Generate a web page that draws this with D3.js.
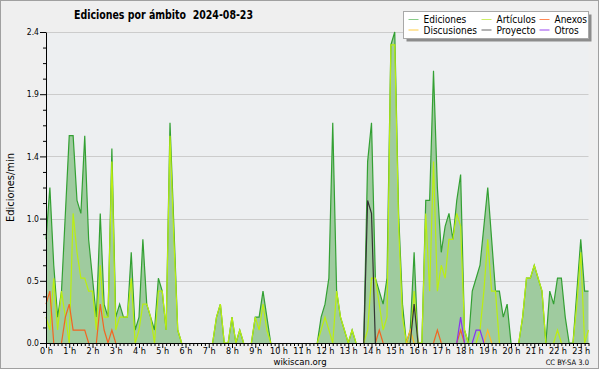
<!DOCTYPE html>
<html>
<head>
<meta charset="utf-8">
<script src="https://cdn.jsdelivr.net/npm/d3@7"></script>
<style>
  body { margin: 0; background: #fff; }
  svg { display: block; }
  text { font-family: "DejaVu Sans Condensed", "DejaVu Sans", sans-serif; font-stretch: condensed; }
</style>
</head>
<body>
<div id="chart-area"></div>
<script>
// values per 10 minutes (edits/min), one row per hour
const ediciones = [
  0.8,1.2,0.6,0.2,0.4,1.0,  1.6,1.6,1.1,1.0,1.6,0.8,  0.5,0.2,1.0,0.3,0.2,1.5,
  0.2,0.3,0.2,0.2,0.7,0.1,  0.2,0.8,0.3,0.2,0.1,0.5,  0.4,0.1,1.7,0.9,0.1,0,
  0,0,0,0,0,0,              0,0,0.2,0.3,0,0,          0.2,0,0.1,0,0,0,
  0.2,0.2,0.4,0.2,0,0,      0,0,0,0,0,0,              0,0,0,0,0,0.2,
  0.3,0.5,1.7,0.4,0.2,0.1,  0,0.1,0,0,0,1.4,          1.7,0.5,0.4,0.3,0.5,2.3,
  2.4,1.0,0.3,0,0.1,0.7,    0,0,1.1,1.1,2.1,1.2,      0.7,0.9,1.0,0.8,1.1,1.3,
  0.1,0,0.4,0.5,0.6,0.9,    1.2,0.8,0.4,0.4,0.2,0.3,  0,0,0,0.2,0.5,0.5,
  0.6,0.5,0.4,0,0.4,0.3,    0.5,0.5,0.2,0,0,0.4,      0.8,0.4,0.4
]
const articulos = [
  0.2,0.1,0.5,0.1,0.4,0.2,  0,1.0,0.7,0.5,0.5,0.4,    0.4,0.1,0.6,0.2,0.2,1.4,
  0.1,0.2,0.2,0.2,0.5,0,    0.1,0.3,0.3,0.2,0,0.4,    0.4,0.1,1.6,0.8,0.1,0,
  0,0,0,0,0,0,              0,0,0.2,0.3,0,0,          0.2,0,0.1,0,0,0,
  0.2,0.1,0.3,0.1,0,0,      0,0,0,0,0,0,              0,0,0,0,0,0.1,
  0.2,0.1,0,0.4,0.2,0.1,    0,0.1,0,0,0,0.1,          0.5,0.5,0.3,0.1,0.2,2.3,
  2.3,0.9,0.2,0,0,0.4,      0,0,1.0,0.4,1.4,0.4,      0.6,0.5,0.8,0.8,1.0,0.9,
  0.1,0,0,0,0.1,0.4,        0.8,0.4,0.4,0,0,0,        0,0,0,0.2,0.5,0.5,
  0.6,0.5,0.4,0,0,0,        0.1,0,0,0,0,0.3,          0.7,0,0.1
]
const anexos = [
  0.3,0.4,0,0,0,0.2,        0.3,0.1,0.1,0.1,0.1,0,    0,0,0.3,0.1,0,0.1,
  0,0,0,0,0,0,              0,0,0,0,0,0,              0,0,0,0,0,0,
  0,0,0,0,0,0,              0,0,0,0,0,0,              0,0,0,0,0,0,
  0,0,0,0,0,0,              0,0,0,0,0,0,              0,0,0,0,0,0,
  0,0,0,0,0,0,              0,0,0,0,0,0,              0,0,0.1,0,0,0,
  0,0,0,0,0,0,              0,0,0,0,0,0.1,            0,0,0,0,0,0.1,
  0,0,0,0,0,0,              0,0,0,0,0,0,              0,0,0,0,0,0,
  0,0,0,0,0,0,              0,0,0,0,0,0,              0,0,0
]
const discusiones = [
  0,0,0,0,0,0,  0,0,0,0,0,0,  0,0,0,0,0,0,  0,0,0,0,0,0,  0,0,0,0,0,0,  0,0,0,0,0,0,
  0,0,0,0,0,0,  0,0,0,0,0,0,  0,0,0,0,0,0,  0,0,0,0,0,0,  0,0,0,0,0,0,  0,0,0,0,0,0,
  0,0,0,0,0,0,  0,0,0,0,0,0,  0,0,0,0,0,0,  0,0,0,0,0.1,0,  0,0,0,0,0,0,  0,0,0,0,0,0,
  0,0,0,0,0,0,  0,0,0,0,0,0,  0,0,0,0,0,0,  0,0,0,0,0,0,  0,0,0,0,0,0,  0,0,0,0,0,0,
  0,0,0
]
discusiones[114] = 0.1
const proyecto = [
  0,0,0,0,0,0,  0,0,0,0,0,0,  0,0,0,0,0,0,  0,0,0,0,0,0,  0,0,0,0,0,0,  0,0,0,0,0,0,
  0,0,0,0,0,0,  0,0,0,0,0,0,  0,0,0,0,0,0,  0,0,0,0,0,0,  0,0,0,0,0,0,  0,0,0,0,0,0,
  0,0,0,0,0,0,  0,0,0,0,0,1.1,  1.0,0,0,0,0,0,  0,0,0,0,0,0.3,  0,0,0,0,0,0,  0,0,0,0,0,0,
  0,0,0,0,0,0,  0,0,0,0,0,0,  0,0,0,0,0,0,  0,0,0,0,0,0,  0,0,0,0,0,0,  0,0,0,0,0,0,
  0,0,0
]
const otros = [
  0,0,0,0,0,0,  0,0,0,0,0,0,  0,0,0,0,0,0,  0,0,0,0,0,0,  0,0,0,0,0,0,  0,0,0,0,0,0,
  0,0,0,0,0,0,  0,0,0,0,0,0,  0,0,0,0,0,0,  0,0,0,0,0,0,  0,0,0,0,0,0,  0,0,0,0,0,0,
  0,0,0,0,0,0,  0,0,0,0,0,0,  0,0,0,0,0,0,  0,0,0,0,0,0,  0,0,0,0,0,0,  0,0,0,0,0,0.2,
  0,0,0,0.1,0.1,0,  0,0,0,0,0,0,  0,0,0,0,0,0,  0,0,0,0,0,0,  0,0,0,0,0,0,  0,0,0,0,0,0,
  0,0,0
]

const hourLabels = ["0 h","1 h","2 h","3 h","4 h","5 h","6 h","7 h","8 h","9 h","10 h","11 h",
  "12 h","13 h","14 h","15 h","16 h","17 h","18 h","19 h","20 h","21 h","22 h","23 h"]
const yTicks = [0, 0.48, 0.96, 1.44, 1.92, 2.4]
const yTickLabels = ["0.0", "0.5", "1.0", "1.4", "1.9", "2.4"]

const legendItems = [
  { name: "Ediciones", color: "#88cc88" },
  { name: "Artículos", color: "#ccee66" },
  { name: "Anexos", color: "#ff8855" },
  { name: "Discusiones", color: "#ffcc44" },
  { name: "Proyecto", color: "#666666" },
  { name: "Otros", color: "#9944ee" }
]

const W = 600, H = 370
const MARGIN = { LEFT: 46, RIGHT: 11.5, TOP: 32, BOTTOM: 27 }

const svg = d3.select("#chart-area").append("svg")
  .attr("width", W)
  .attr("height", H)

// frame
svg.append("rect")
  .attr("x", 0.5).attr("y", 0.5)
  .attr("width", 598).attr("height", 368)
  .attr("fill", "#efefef")
  .attr("stroke", "#a0a0a0")

const x = d3.scaleLinear()
  .domain([0, ediciones.length - 1])
  .range([MARGIN.LEFT, W - MARGIN.RIGHT])

const y = d3.scaleLinear()
  .domain([0, 2.4])
  .range([H - MARGIN.BOTTOM, MARGIN.TOP])

// plot background
svg.append("rect")
  .attr("x", MARGIN.LEFT).attr("y", MARGIN.TOP)
  .attr("width", x.range()[1] - MARGIN.LEFT)
  .attr("height", y(0) - MARGIN.TOP)
  .attr("fill", "#edeff1")

// grid
svg.append("g").selectAll("line")
  .data(yTicks.slice(1))
  .enter().append("line")
  .attr("x1", MARGIN.LEFT).attr("x2", x.range()[1])
  .attr("y1", d => Math.round(y(d)) + 0.5).attr("y2", d => Math.round(y(d)) + 0.5)
  .attr("stroke", "#cccccc")

// total area + line
const area = d3.area()
  .x((d, i) => x(i))
  .y0(y(0))
  .y1(d => y(d))

// skip runs of zeros so nothing is drawn along the axis
const line = d3.line()
  .defined((d, i, arr) => d > 0 || arr[i - 1] > 0 || arr[i + 1] > 0)
  .x((d, i) => x(i))
  .y(d => y(d))

svg.append("path")
  .datum(ediciones)
  .attr("d", area)
  .attr("fill", "#9fcb9f")

svg.append("path")
  .datum(ediciones)
  .attr("d", line)
  .attr("fill", "none")
  .attr("stroke", "#33a033")
  .attr("stroke-width", 1.2)

const series = [
  { data: articulos, color: "#bbee11" },
  { data: anexos, color: "#f26522" },
  { data: discusiones, color: "#ffbb22" },
  { data: proyecto, color: "#333333" },
  { data: otros, color: "#8833ee" }
]

series.forEach(s => {
  svg.append("path")
    .datum(s.data)
    .attr("d", line)
    .attr("fill", "none")
    .attr("stroke", s.color)
    .attr("stroke-width", 1.2)
})

// x axis
const xAxisCall = d3.axisBottom(x)
  .tickValues(d3.range(0, ediciones.length))
  .tickSize(3)
  .tickSizeOuter(0)
  .tickFormat(i => i % 6 === 0 ? hourLabels[i / 6] : "")

const xg = svg.append("g")
  .attr("transform", `translate(0, ${y(0)})`)
  .call(xAxisCall)
xg.selectAll(".tick").filter(i => i % 6 === 0).select("line").attr("y2", 5)
xg.selectAll("text")
  .attr("y", 4.5)
  .attr("font-size", "9px")
  .attr("fill", "#000")

// y axis
const yAxisCall = d3.axisLeft(y)
  .tickValues(d3.range(0, 21).map(k => k * 0.12))
  .tickSize(3)
  .tickSizeOuter(0)
  .tickFormat((d, k) => k % 4 === 0 ? yTickLabels[k / 4] : "")

const yg = svg.append("g")
  .attr("transform", `translate(${MARGIN.LEFT}, 0)`)
  .call(yAxisCall)
yg.selectAll(".tick").filter((d, k) => k % 4 === 0).select("line").attr("x2", -6)
yg.selectAll("text")
  .attr("x", -7)
  .attr("font-size", "8.5px")
  .attr("fill", "#000")

svg.selectAll(".domain").attr("stroke", "#000")

// y label
svg.append("text")
  .attr("transform", `translate(13.5, ${(MARGIN.TOP + y(0)) / 2}) rotate(-90)`)
  .attr("text-anchor", "middle")
  .attr("font-size", "11px")
  .text("Ediciones/min")

// title
svg.append("text")
  .attr("x", 74)
  .attr("y", 18.5)
  .attr("font-size", "12px")
  .attr("font-weight", "bold")
  .attr("xml:space", "preserve")
  .style("white-space", "pre")
  .attr("textLength", 179)
  .attr("lengthAdjust", "spacingAndGlyphs")
  .text("Ediciones por ámbito  2024-08-23")

// legend
const legend = svg.append("g").attr("transform", "translate(403.5, 11.5)")
legend.append("rect")
  .attr("x", 3).attr("y", 3)
  .attr("width", 185).attr("height", 27)
  .attr("fill", "#8c8c8c")
legend.append("rect")
  .attr("width", 185).attr("height", 27)
  .attr("fill", "#fff")
  .attr("stroke", "#a8a8a8")

const colX = [5, 78, 136]
const rowY = [8, 18.5]
legendItems.forEach((d, k) => {
  const cx = colX[k % 3], cy = rowY[Math.floor(k / 3)]
  legend.append("line")
    .attr("x1", cx).attr("x2", cx + 10)
    .attr("y1", cy).attr("y2", cy)
    .attr("stroke", d.color)
  legend.append("text")
    .attr("x", cx + 15)
    .attr("y", cy + 3.5)
    .attr("font-size", "10px")
    .text(d.name)
})

// footer
svg.append("text")
  .attr("x", 300)
  .attr("y", 364.5)
  .attr("text-anchor", "middle")
  .attr("font-size", "9.5px")
  .text("wikiscan.org")

svg.append("text")
  .attr("x", 589)
  .attr("y", 364.5)
  .attr("text-anchor", "end")
  .attr("font-size", "7.5px")
  .text("CC BY-SA 3.0")
</script>
</body>
</html>
